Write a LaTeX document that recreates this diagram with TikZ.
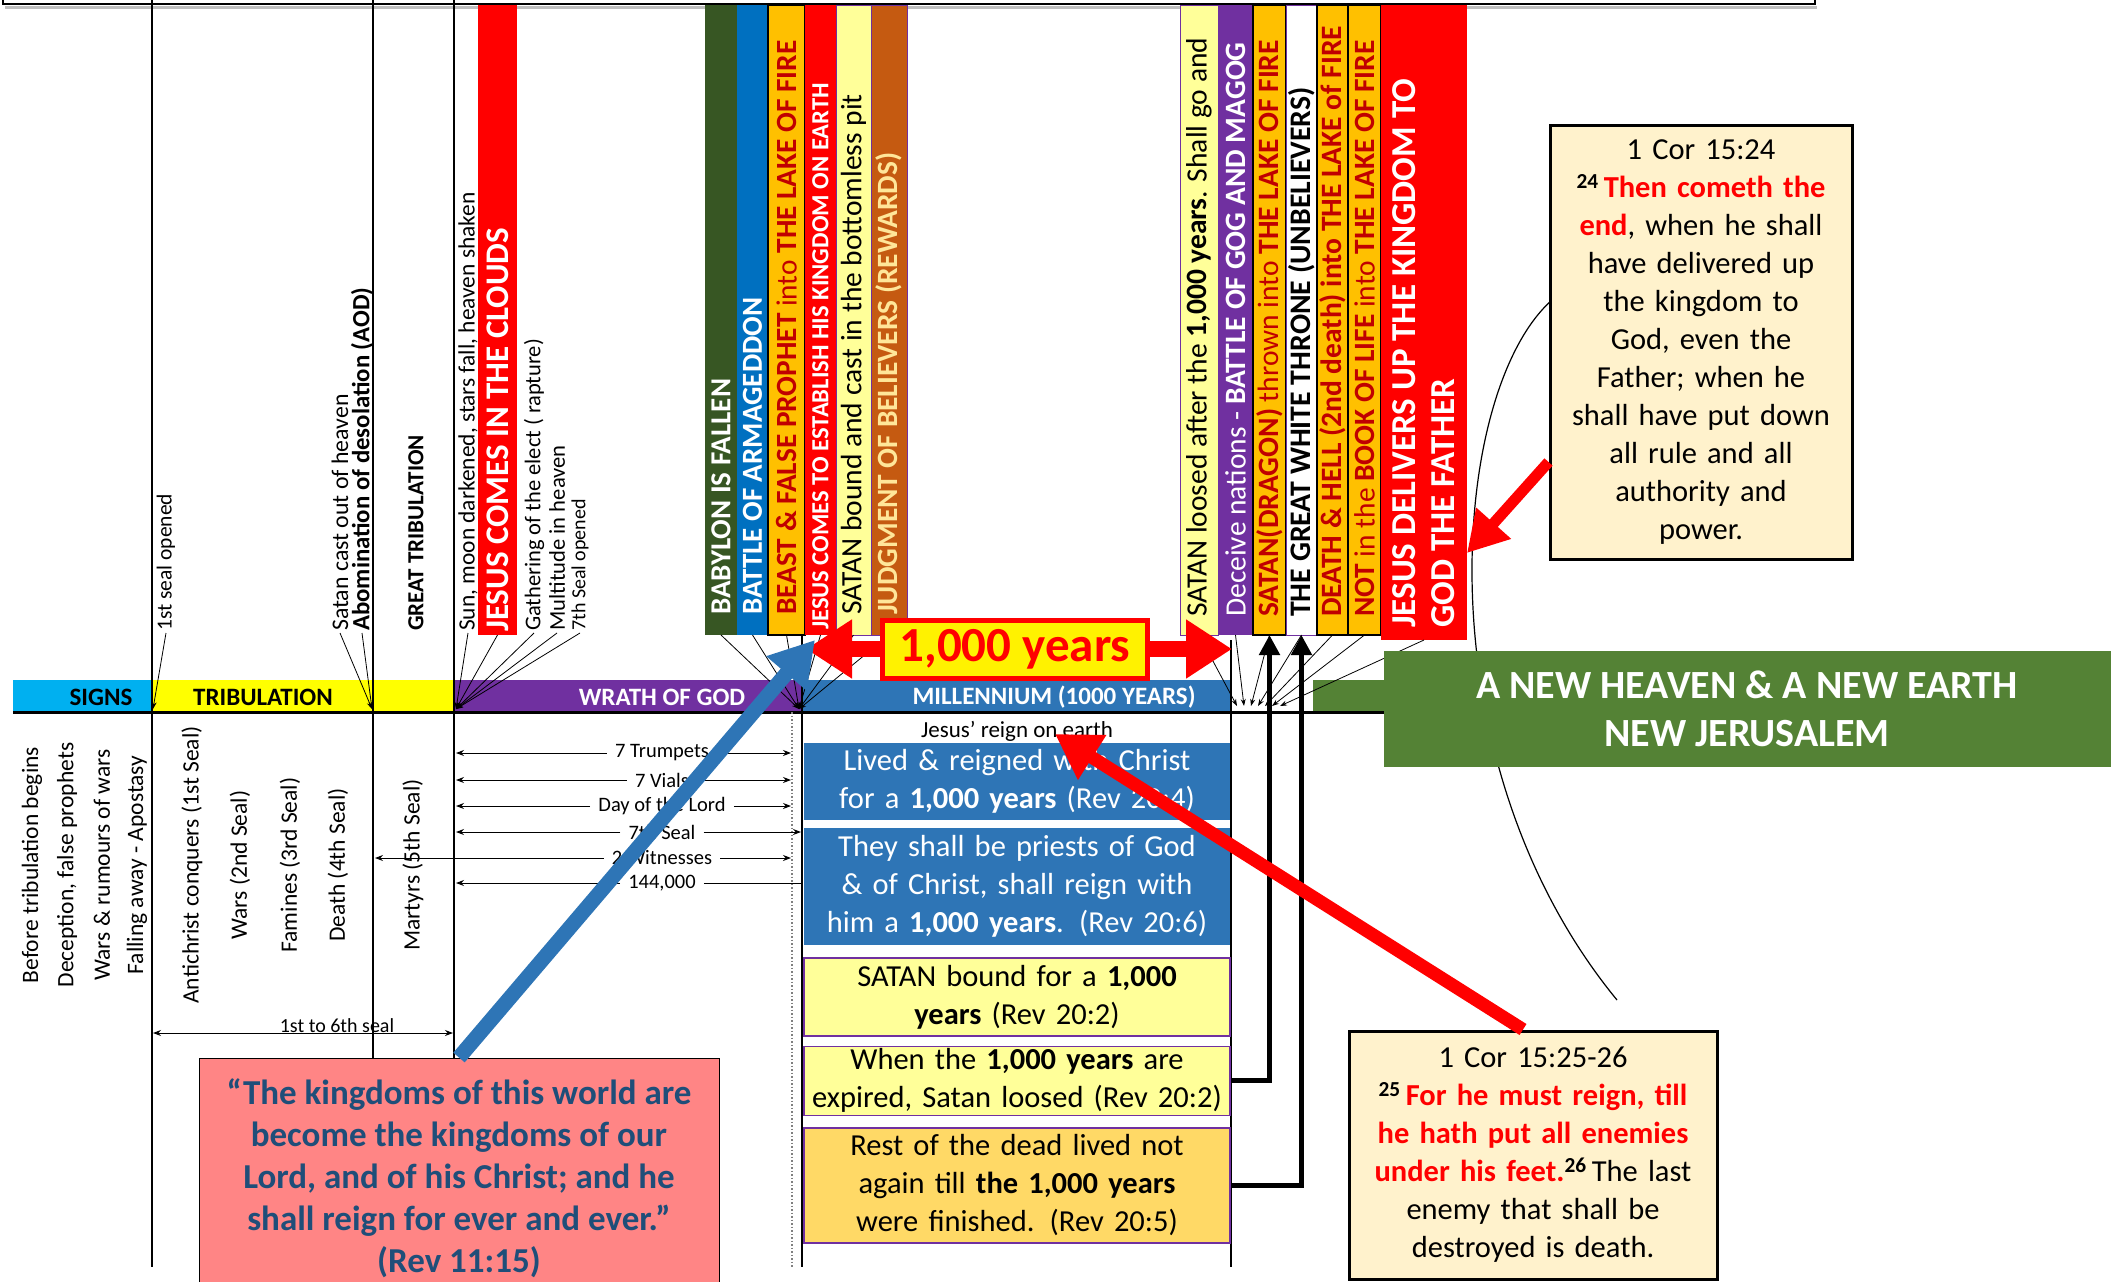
\documentclass[tikz,border=0pt]{standalone}
\usepackage{fontspec}
\setmainfont{Carlito}
\usetikzlibrary{positioning,arrows.meta,calc}
\definecolor{cSigns}{HTML}{00B0F0}
\definecolor{cTrib}{HTML}{FFFF00}
\definecolor{cWrath}{HTML}{7030A0}
\definecolor{cMill}{HTML}{2E75B6}
\definecolor{cNewEarth}{HTML}{548235}
\definecolor{cBabylon}{HTML}{375623}
\definecolor{cArmag}{HTML}{0070C0}
\definecolor{cFire}{HTML}{FFC000}
\definecolor{cDarkRed}{HTML}{C00000}
\definecolor{cPale}{HTML}{FFFF99}
\definecolor{cBrown}{HTML}{C55A11}
\definecolor{cPink}{HTML}{FF8585}
\definecolor{cQuote}{HTML}{1F4E79}
\definecolor{cCream}{HTML}{FFF2CC}
\definecolor{cGold}{HTML}{FFD966}
\definecolor{cReward}{HTML}{FFE699}
\newcommand{\fsz}[1]{\fontsize{#1}{\dimexpr #1pt*6/5\relax}\selectfont}
\tikzstyle{arrow} = [line width=1pt,-{Stealth[length=8pt,width=6pt]}]
\tikzstyle{lead} = [line width=0.8pt,-{Stealth[length=7pt,width=5pt]}]
\tikzstyle{vlabel} = [rotate=90, anchor=west, inner xsep=2pt, inner ysep=0pt, font=\fsz{23}]
\tikzstyle{vnote} = [rotate=90, inner sep=0pt, font=\fsz{23.5}]
\tikzstyle{barlabel} = [rotate=90, anchor=west, inner xsep=20pt, inner ysep=0pt, align=left, font=\fsz{29.5}]
\tikzstyle{segtext} = [inner sep=0pt, font=\bfseries\fsz{25}]
\tikzstyle{spanlabel} = [inner xsep=8pt, inner ysep=0pt, font=\fsz{20.5}]
\tikzstyle{tRect} = [rectangle, align=center, minimum width=426pt, text width=418pt, inner sep=0pt, font=\fontsize{30.5}{38}\selectfont]
\tikzstyle{verse} = [rectangle, draw=black, line width=3pt, fill=cCream, align=center, inner sep=0pt, font=\fontsize{30.5}{38}\selectfont]
\tikzstyle{bigarrow} = [line width=15pt, -{Triangle[length=44pt,width=50pt]}]
\tikzstyle{thickarrow} = [line width=5pt, -{Triangle[length=20pt,width=20pt]}]

\begin{document}
\begin{tikzpicture}[x=1pt, y=-1pt]
\useasboundingbox (0,0) rectangle (2113,1282);
% frame along the top
\draw[gray!50, line width=3pt] (5,7) -- (1817,7);
\draw[line width=2pt] (3,-20) rectangle (1815,4);

% arc behind the new earth box
\coordinate (ArcTop) at (1552,300);
\coordinate (ArcEnd) at (1617,1000);
\draw[line width=1.2pt] (ArcTop) .. controls (1450,390) and (1420,760) .. (ArcEnd);

% event bars before the millennium
\fill[red] (478,5) rectangle (517,635);
\fill[cBabylon] (705,5) rectangle (737,635);
\fill[cArmag] (737,5) rectangle (768,635);
\filldraw[fill=cFire, draw=black, line width=1.5pt] (768,5) rectangle (805,635);
\fill[red] (805,5) rectangle (836,635);
\filldraw[fill=cPale, draw=cWrath, line width=0.8pt] (836,5) rectangle (871,635);
\filldraw[fill=cBrown, draw=cWrath, line width=0.8pt] (871,5) rectangle (907,635);
% event bars after the millennium
\filldraw[fill=cPale, draw=cWrath, line width=0.8pt] (1180,5) rectangle (1218,635);
\fill[cWrath] (1218,5) rectangle (1253,635);
\filldraw[fill=cFire, draw=black, line width=1.5pt] (1253,5) rectangle (1286,635);
\filldraw[fill=white, draw=cWrath, line width=0.8pt] (1286,5) rectangle (1317,635);
\filldraw[fill=cFire, draw=black, line width=1.5pt] (1317,5) rectangle (1348,635);
\filldraw[fill=cFire, draw=black, line width=1.5pt] (1348,5) rectangle (1381,635);
\fill[red] (1381,5) rectangle (1467,640);

% time line
\fill[cSigns] (13,680) rectangle (152,712);
\fill[cTrib] (152,680) rectangle (454,712);
\fill[cWrath] (454,680) rectangle (802,712);
\fill[cMill] (802,680) rectangle (1231,712);
\fill[cNewEarth] (1313,680) rectangle (1384,712);
\draw[line width=3pt] (13,712) -- (1384,712);
\node[segtext] (Signs) at (101,697) {SIGNS};
\node[segtext] (Tribulation) at (263,697) {TRIBULATION};
\node[segtext, text=white] (Wrath) at (662,697) {WRATH OF GOD};
\node[segtext, text=white] (Millennium) at (1054,697) {MILLENNIUM (1000 YEARS)};

\draw[line width=2pt] (152,0) -- (152,1267);
\draw[line width=2pt] (373,0) -- (373,1058);
\draw[line width=2pt] (454,0) -- (454,1058);
\draw[line width=2.5pt] (802,635) -- (802,1267);
\draw[line width=2.5pt] (1231,640) -- (1231,1267);
\draw[gray, dotted, line width=1.5pt] (792,712) -- (792,1267);

% labels above the time line
\node[vlabel, font=\fsz{21.5}] (FirstSeal) at (166,633) {1st seal opened};
\node[vlabel, font=\fsz{23.8}] (SatanCast) at (340,633) {Satan cast out of heaven};
\node[vlabel, font=\bfseries\fsz{24.8}] (Abomination) at (362,633) {Abomination of desolation (AOD)};
\node[vlabel, font=\bfseries\fsz{23}] (GreatTrib) at (416,633) {GREAT TRIBULATION};
\node[vlabel, font=\fsz{23.4}] (SunMoon) at (468,633) {Sun, moon darkened, stars fall, heaven shaken};
\node[barlabel, inner xsep=3pt, text=white, font=\bfseries\fsz{33}] (JesusClouds) at (497.5,635) {JESUS COMES IN THE CLOUDS};
\node[vlabel, font=\fsz{22.5}] (Gathering) at (534,633) {Gathering of the elect ( rapture)};
\node[vlabel, font=\fsz{22.6}] (Multitude) at (557,633) {Multitude in heaven};
\node[vlabel, font=\fsz{20}] (SeventhOpened) at (580,633) {7th Seal opened};

\node[barlabel, text=white, font=\bfseries\fsz{29}] (Babylon) at (721,635) {BABYLON IS FALLEN};
\node[barlabel, text=white, font=\bfseries\fsz{29}] (Armageddon) at (752.5,635) {BATTLE OF ARMAGEDDON};
\node[barlabel, text=cDarkRed, font=\fsz{29.3}] (Beast) at (786.5,635) {\textbf{BEAST \& FALSE PROPHET} into \textbf{THE LAKE OF FIRE}};
\node[barlabel, inner xsep=5pt, text=white, font=\bfseries\fsz{24.6}] (Establish) at (820.5,635) {JESUS COMES TO ESTABLISH HIS KINGDOM ON EARTH};
\node[barlabel] (Bottomless) at (853.5,635) {SATAN bound and cast in the bottomless pit};
\node[barlabel, text=cReward, font=\bfseries\fsz{29.4}] (Judgment) at (889,635) {JUDGMENT OF BELIEVERS (REWARDS)};

\node[barlabel, inner xsep=18pt] (Loosed) at (1199,635) {SATAN loosed after the \textbf{1,000 years}. Shall go and};
\node[barlabel, inner xsep=18pt, text=white] (Deceive) at (1235.5,635) {Deceive nations - \textbf{BATTLE OF GOG AND MAGOG}};
\node[barlabel, inner xsep=18pt, text=cDarkRed] (Dragon) at (1269.5,635) {\textbf{SATAN(DRAGON)} thrown into \textbf{THE LAKE OF FIRE}};
\node[barlabel, inner xsep=18pt, font=\bfseries\fsz{29.8}] (Throne) at (1301.5,635) {THE GREAT WHITE THRONE (UNBELIEVERS)};
\node[barlabel, inner xsep=18pt, text=cDarkRed, font=\bfseries\fsz{29.5}] (DeathHell) at (1332.5,635) {DEATH \& HELL (2nd death) into THE LAKE of FIRE};
\node[barlabel, inner xsep=18pt, text=cDarkRed, font=\fsz{29.4}] (NotBook) at (1364.5,635) {\textbf{NOT} in the \textbf{BOOK OF LIFE} into \textbf{THE LAKE OF FIRE}};
\node[barlabel, inner xsep=12pt, text=white, font=\bfseries\fontsize{35}{39}\selectfont] (Delivers) at (1424,640) {JESUS DELIVERS UP THE KINGDOM TO\\GOD THE FATHER};

% leader lines to the time line
\coordinate (SignsEnd) at (153,709);
\coordinate (TribMid) at (372,709);
\coordinate (WrathStart) at (456,709);
\coordinate (WrathEnd) at (799,709);
\draw[lead] (FirstSeal.west) -- (SignsEnd);
\foreach \n in {SatanCast, Abomination} \draw[lead] (\n.west) -- (TribMid);
\foreach \n in {SunMoon, JesusClouds, Gathering, Multitude, SeventhOpened} \draw[lead] (\n.west) -- (WrathStart);
\foreach \n in {Babylon, Armageddon, Beast, Establish, Bottomless, Judgment} \draw[lead] (\n.west) -- (WrathEnd);
\foreach \n/\x in {Loosed/1237, Deceive/1244, Dragon/1251, Throne/1258, DeathHell/1265, NotBook/1272, Delivers/1280} {
  \coordinate (Hit\n) at (\x,706);
  \draw[lead] (\n.west) -- (Hit\n);
}

% notes under the time line
\node[vnote] (BeforeTrib) at (32,865) {Before tribulation begins};
\node[vnote] (Deception) at (67,865) {Deception, false prophets};
\node[vnote] (WarsRumours) at (102,865) {Wars \& rumours of wars};
\node[vnote] (FallingAway) at (137,865) {Falling away - Apostasy};
\node[vnote] (Antichrist) at (192,865) {Antichrist conquers (1st Seal)};
\node[vnote] (WarsSeal) at (240,865) {Wars (2nd Seal)};
\node[vnote] (Famines) at (290,865) {Famines (3rd Seal)};
\node[vnote] (DeathSeal) at (338,865) {Death (4th Seal)};
\node[vnote] (Martyrs) at (413,865) {Martyrs (5th Seal)};

\coordinate (SealsL) at (153,1033);
\coordinate (SealsR) at (453,1033);
\draw[line width=1pt, {Stealth[length=8pt,width=6pt]}-{Stealth[length=8pt,width=6pt]}] (SealsL) -- (SealsR);
\node[spanlabel, font=\fsz{20}, anchor=base] (SealsLabel) at (337,1032) {1st to 6th seal};

% spans of the wrath of God
\coordinate (GreatLeft) at (375,0);
\coordinate (WrathLeft) at (456,0);
\coordinate (DotLine) at (791,0);
\coordinate (MillLeft) at (801,0);
\node[spanlabel] (Trumpets) at (662,753) {7 Trumpets};
\node[spanlabel] (Vials) at (662,780) {7 Vials};
\node[spanlabel] (DayLord) at (662,806) {Day of the Lord};
\node[spanlabel] (SeventhSeal) at (662,832) {7th Seal};
\node[spanlabel] (Witnesses) at (662,858) {2 Witnesses};
\node[spanlabel] (Sealed) at (662,883) {144,000};
\foreach \n in {Trumpets, Vials, DayLord, SeventhSeal, Sealed} \draw[arrow] (\n.west) -- (\n.west -| WrathLeft);
\foreach \n in {Trumpets, Vials, DayLord, Witnesses} \draw[arrow] (\n.east) -- (\n.east -| DotLine);
\draw[arrow] (Witnesses.west) -- (Witnesses.west -| GreatLeft);
\draw[arrow] (SeventhSeal.east) -- (SeventhSeal.east -| MillLeft);
\draw[line width=1pt] (Sealed.east) -- (Sealed.east -| MillLeft);

% the millennium
\node[tRect, fill=cMill, text=white, minimum height=77pt] (Lived) at (1017,781) {Lived \& reigned with Christ\\for a \textbf{1,000 years} (Rev 20:4)};
\node[tRect, fill=cMill, text=white, minimum height=117pt, below=8pt of Lived] (Priests) {They shall be priests of God\\\& of Christ, shall reign with\\him a \textbf{1,000 years}. (Rev 20:6)};
\node[tRect, fill=cPale, draw=cWrath, line width=1.5pt, minimum height=78pt, below=12pt of Priests] (Bound) {SATAN bound for a \textbf{1,000}\\\textbf{years} (Rev 20:2)};
\node[tRect, fill=cPale, draw=cWrath, line width=1.5pt, minimum height=69pt, below=9pt of Bound] (Expired) {When the \textbf{1,000 years} are\\expired, Satan loosed (Rev 20:2)};
\node[tRect, fill=cGold, draw=cWrath, line width=1.5pt, minimum height=115pt, below=11pt of Expired] (RestDead) {Rest of the dead lived not\\again till \textbf{the 1,000 years}\\were finished. (Rev 20:5)};
\node[spanlabel, font=\fsz{23}, above=1pt of Lived] (Reign) {Jesus' reign on earth};

\draw[thickarrow] (Expired.east) -| (Dragon.west);
\draw[thickarrow] (RestDead.east) -| (Throne.west);

% new heaven and earth
\node[fill=cNewEarth, text=white, font=\bfseries\fontsize{40}{48}\selectfont, align=center, minimum width=727pt, minimum height=116pt] (NewEarth) at (1747,709) {A NEW HEAVEN \& A NEW EARTH\\NEW JERUSALEM};

% scripture boxes
\node[verse, minimum width=302pt, minimum height=434pt, text width=294pt] (Cor24) at (1701,342) {1 Cor 15:24\\\textsuperscript{\textbf{24}}\,\textcolor{red}{\textbf{Then cometh the}}\\\textcolor{red}{\textbf{end}}, when he shall\\have delivered up\\the kingdom to\\God, even the\\Father; when he\\shall have put down\\all rule and all\\authority and\\power.};
\node[verse, minimum width=368pt, minimum height=248pt, text width=360pt] (Cor25) at (1533,1155) {1 Cor 15:25-26\\\textsuperscript{\textbf{25}}\,\textcolor{red}{\textbf{For he must reign, till}}\\\textcolor{red}{\textbf{he hath put all enemies}}\\\textcolor{red}{\textbf{under his feet.}}\textsuperscript{\textbf{26}}\,The last\\enemy that shall be\\destroyed is death.};
\node[draw=black, line width=1pt, fill=cPink, text=cQuote, font=\bfseries\fontsize{35}{42}\selectfont, align=center, minimum width=520pt, minimum height=240pt] (Quote) at (459,1178) {“The kingdoms of this world are\\become the kingdoms of our\\Lord, and of his Christ; and he\\shall reign for ever and ever.”\\(Rev 11:15)};

% one thousand years
\node[draw=red, line width=5pt, fill=yellow, text=red, font=\bfseries\fsz{49}, minimum width=265pt, minimum height=58pt, inner sep=0pt] (Years) at (1015,649) {1,000 years};
\coordinate (YearsL) at (806,649);
\coordinate (YearsR) at (1232,649);
\draw[bigarrow, red, line width=16pt, -{Triangle[length=46pt,width=56pt]}] (Years.west) -- (YearsL);
\draw[bigarrow, red, line width=16pt, -{Triangle[length=46pt,width=56pt]}] (Years.east) -- (YearsR);

% pointers
\coordinate (BlueTip) at (815,640);
\coordinate (MillTip) at (1055,734);
\coordinate (DeliverTip) at (1467,553);
\draw[bigarrow, cMill] (Quote.north) -- (BlueTip);
\draw[bigarrow, red, line width=13pt] ($(Cor25.north)+(-10,0)$) -- (MillTip);
\draw[bigarrow, red, line width=11pt, -{Triangle[length=40pt,width=44pt]}] ($(Cor24.west)+(0,120)$) -- (DeliverTip);
\end{tikzpicture}
\end{document}
